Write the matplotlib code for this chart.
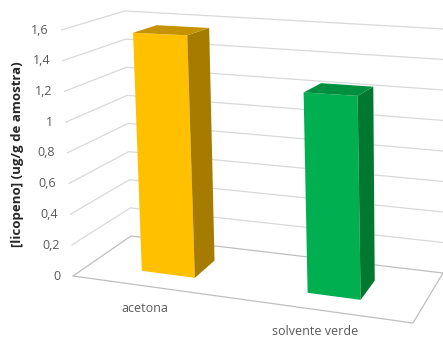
import matplotlib
matplotlib.use("Agg")
import matplotlib.pyplot as plt
from matplotlib.patches import Polygon

# data
categories = ["acetona", "solvente verde"]
values = [1.56, 1.24]
yticks = [0, 0.2, 0.4, 0.6, 0.8, 1.0, 1.2, 1.4, 1.6]
ytick_labels = ["0", "0,2", "0,4", "0,6", "0,8", "1", "1,2", "1,4", "1,6"]
ylabel = "[licopeno] (ug/g de amostra)"
ymax = 1.6

face_colors = ["#FFC000", "#00B050"]
side_colors = ["#A67C00", "#00782F"]
top_colors = ["#C59300", "#008F3E"]

# corners of the 3D box in pixel space: (x, y, z) -> (px, py)
# x: left->right, y: bottom->top, z: front->back
corners = {
    (0, 0, 0): (73, 276), (1, 0, 0): (413, 323),
    (0, 0, 1): (131, 236), (1, 0, 1): (443, 273),
    (0, 1, 0): (61, 30), (1, 1, 0): (409, 44),
    (0, 1, 1): (125, 11), (1, 1, 1): (444, 29),
}


def proj(x, y, z):
    px = py = 0.0
    for (cx, cy, cz), (qx, qy) in corners.items():
        w = (x if cx else 1 - x) * (y if cy else 1 - y) * (z if cz else 1 - z)
        px += w * qx
        py += w * qy
    return px, py


def poly(pts, **kw):
    return Polygon([proj(*p) for p in pts], closed=True, **kw)


fig = plt.figure(figsize=(4.43, 3.38), dpi=100)
ax = fig.add_axes([0, 0, 1, 1])
ax.set_xlim(0, 443)
ax.set_ylim(338, 0)
ax.axis("off")

font = ["Open Sans", "DejaVu Sans"]

# gridlines on left and back walls
for v, lab in zip(yticks, ytick_labels):
    h = v / ymax
    a, b, c = proj(0, h, 0), proj(0, h, 1), proj(1, h, 1)
    col = "#bfbfbf" if v == 0 else "#d9d9d9"
    ax.plot([a[0], b[0], c[0]], [a[1], b[1], c[1]], color=col, lw=0.9,
            solid_capstyle="butt", zorder=1)
    ax.text(a[0] - 12, a[1], lab, ha="right", va="center", fontsize=9,
            color="#595959", family=font)

# floor outline (front and right edges)
f = [proj(0, 0, 0), proj(1, 0, 0), proj(1, 0, 1)]
ax.plot([p[0] for p in f], [p[1] for p in f], color="#bfbfbf", lw=0.9, zorder=1)

# bars
n = len(categories)
width = 0.16
z0, z1 = 0.3, 0.7
for i, (cat, val) in enumerate(zip(categories, values)):
    c = (i + 0.5) / n - 0.015
    x0, x1 = c - width / 2, c + width / 2
    h = val / ymax
    ax.add_patch(poly([(x0, 0, z0), (x1, 0, z0), (x1, h, z0), (x0, h, z0)],
                      facecolor=face_colors[i], edgecolor="none", zorder=3))
    ax.add_patch(poly([(x1, 0, z0), (x1, 0, z1), (x1, h, z1), (x1, h, z0)],
                      facecolor=side_colors[i], edgecolor="none", zorder=3))
    ax.add_patch(poly([(x0, h, z0), (x1, h, z0), (x1, h, z1), (x0, h, z1)],
                      facecolor=top_colors[i], edgecolor="none", zorder=3))
    lx, ly = proj(c, 0, 0)
    ax.text(lx - 8, ly + 21, cat, ha="center", va="center", fontsize=9,
            color="#595959", family=font)

ax.text(18, 154, ylabel, rotation=90, ha="center", va="center", fontsize=9.5,
        fontweight="bold", color="#262626", family=font)

fig.savefig("out.png", dpi=100)
